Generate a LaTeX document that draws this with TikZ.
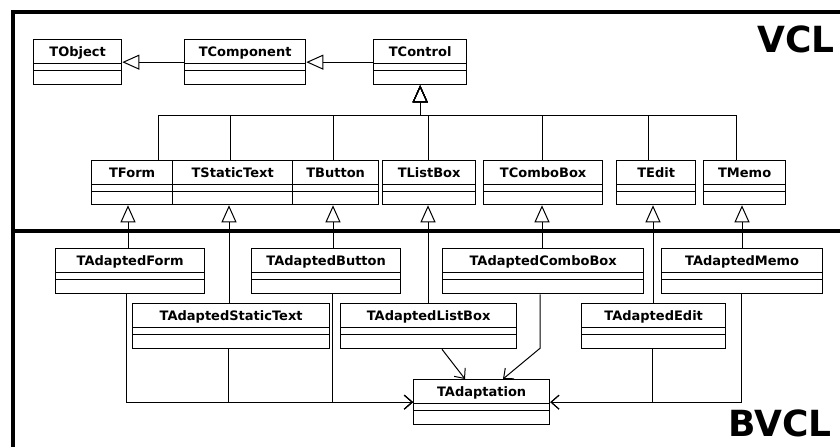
\documentclass[tikz,border=0pt]{standalone}
\usepackage{fontspec}
\setmainfont{DejaVu Sans}
\usetikzlibrary{arrows.meta}
% a UML class box: name, left, top, right, bottom, label
\newcommand\classnode[6]{%
  \node[classbox, minimum width={#4pt-#2pt}, minimum height={#5pt-#3pt}] (#1) at (#2,#3) {#6};}
\begin{document}
\begin{tikzpicture}[x=1pt,y=-1pt,
  classbox/.style={draw, line width=1.3pt, rectangle, anchor=north west, inner sep=0pt,
    font=\fontsize{13}{15}\selectfont\bfseries, text height=10pt, text depth=21pt,
    path picture={
      \draw[line width=1.1pt] ([yshift=-24pt]path picture bounding box.north west)
        -- ([yshift=-24pt]path picture bounding box.north east);
      \draw[line width=1.1pt] ([yshift=-31pt]path picture bounding box.north west)
        -- ([yshift=-31pt]path picture bounding box.north east);
    }},
  gen/.style={line width=1pt, -{Triangle[open, length=17pt, width=15pt]}},
  dep/.style={line width=1pt, -{Straight Barb[length=8pt, width=14pt]}},
  frame/.style={line width=4pt},
  layer/.style={anchor=base west, inner sep=0pt, font=\fontsize{36}{40}\selectfont\bfseries}
]
\useasboundingbox (0,0) rectangle (840,447);

% layer frame
\draw[frame] (13,447) -- (13,12) -- (840,12);
\draw[line width=3.5pt] (13,231) -- (840,231);
\node[layer] (vcl) at (757,52) {VCL};
\node[layer] (bvcl) at (728,436) {BVCL};

% VCL classes
\classnode{TObject}{33}{39}{121}{84}{TObject}
\classnode{TComponent}{184}{39}{305}{84}{TComponent}
\classnode{TControl}{373}{39}{466}{84}{TControl}
\classnode{TForm}{91}{160}{172}{204}{TForm}
\classnode{TStaticText}{172}{160}{292}{204}{TStaticText}
\classnode{TButton}{292}{160}{378}{204}{TButton}
\classnode{TListBox}{382}{160}{475}{204}{TListBox}
\classnode{TComboBox}{483}{160}{602}{204}{TComboBox}
\classnode{TEdit}{616}{160}{695}{204}{TEdit}
\classnode{TMemo}{703}{160}{785}{204}{TMemo}

% BVCL classes
\classnode{TAdaptedForm}{55}{248}{204}{293}{TAdaptedForm}
\classnode{TAdaptedButton}{251}{248}{400}{293}{TAdaptedButton}
\classnode{TAdaptedComboBox}{442}{248}{643}{293}{TAdaptedComboBox}
\classnode{TAdaptedMemo}{661}{248}{822}{293}{TAdaptedMemo}
\classnode{TAdaptedStaticText}{132}{303}{329}{348}{TAdaptedStaticText}
\classnode{TAdaptedListBox}{340}{303}{516}{348}{TAdaptedListBox}
\classnode{TAdaptedEdit}{581}{303}{725}{348}{TAdaptedEdit}
\classnode{TAdaptation}{413}{379}{549}{424}{TAdaptation}

% inheritance inside VCL
\draw[gen] (TComponent.west) -- (TObject.east);
\draw[gen] (TControl.west) -- (TComponent.east);
\draw[gen] ([xshift=67pt]TForm.north west) -- ++(0,-45) -| (TControl.south);
\draw[gen] ([xshift=58pt]TStaticText.north west) -- ++(0,-45) -| (TControl.south);
\draw[gen] ([xshift=41pt]TButton.north west) -- ++(0,-45) -| (TControl.south);
\draw[gen] ([xshift=46pt]TListBox.north west) -- ++(0,-45) -| (TControl.south);
\draw[gen] ([xshift=59pt]TComboBox.north west) -- ++(0,-45) -| (TControl.south);
\draw[gen] ([xshift=32pt]TEdit.north west) -- ++(0,-45) -| (TControl.south);
\draw[gen] ([xshift=33pt]TMemo.north west) -- ++(0,-45) -| (TControl.south);

% BVCL classes derive from VCL classes
\draw[gen] ([xshift=73pt]TAdaptedForm.north west) -- ([xshift=37pt]TForm.south west);
\draw[gen] ([xshift=97pt]TAdaptedStaticText.north west) -- ([xshift=57pt]TStaticText.south west);
\draw[gen] ([xshift=82pt]TAdaptedButton.north west) -- ([xshift=41pt]TButton.south west);
\draw[gen] ([xshift=88pt]TAdaptedListBox.north west) -- ([xshift=46pt]TListBox.south west);
\draw[gen] ([xshift=100pt]TAdaptedComboBox.north west) -- ([xshift=59pt]TComboBox.south west);
\draw[gen] ([xshift=72pt]TAdaptedEdit.north west) -- ([xshift=37pt]TEdit.south west);
\draw[gen] ([xshift=81pt]TAdaptedMemo.north west) -- ([xshift=39pt]TMemo.south west);

% dependencies on TAdaptation
\draw[dep] ([xshift=71pt]TAdaptedForm.south west) |- (TAdaptation.west);
\draw[dep] ([xshift=96pt]TAdaptedStaticText.south west) |- (TAdaptation.west);
\draw[dep] ([xshift=81pt]TAdaptedButton.south west) |- (TAdaptation.west);
\draw[dep] ([xshift=102pt]TAdaptedListBox.south west) -- ([xshift=52pt]TAdaptation.north west);
\draw[dep] ([xshift=98pt]TAdaptedComboBox.south west) -- ++(0,54) -- ([xshift=90pt]TAdaptation.north west);
\draw[dep] ([xshift=71pt]TAdaptedEdit.south west) |- (TAdaptation.east);
\draw[dep] ([xshift=80pt]TAdaptedMemo.south west) |- (TAdaptation.east);
\end{tikzpicture}
\end{document}
